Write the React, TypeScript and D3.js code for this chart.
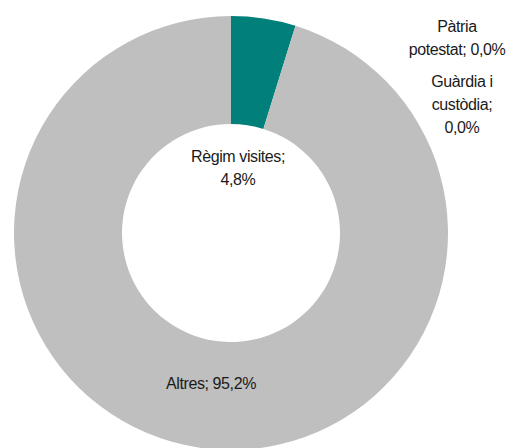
import React from "react";
import * as d3 from "d3";

const categories = ["Règim visites", "Pàtria potestat", "Guàrdia i custòdia", "Altres"];
const values = [4.8, 0.0, 0.0, 95.2];
const colors = ["#007F7B", "#A5A5A5", "#8FA0B0", "#BFBFBF"];
const labelLines = [
  ["Règim visites;", "4,8%"],
  ["Pàtria", "potestat; 0,0%"],
  ["Guàrdia i", "custòdia;", "0,0%"],
  ["Altres; 95,2%"],
];

const W = 510;
const H = 448;
const cx = 231;
const cy = 233;
const outerR = 217;
const innerR = 109;

// label anchor positions (text block first baseline), relative to the chart
const labelPos: [number, number][] = [
  [238, 162],
  [457, 32],
  [462, 87],
  [211, 389],
];

export default function App() {
  const pie = d3
    .pie<number>()
    .sort(null)
    .value((d) => d)
    .startAngle(0)
    .endAngle(2 * Math.PI);
  const arcs = pie(values);
  const arc = d3.arc<d3.PieArcDatum<number>>().innerRadius(innerR).outerRadius(outerR);

  return (
    <svg
      width={W}
      height={H}
      style={{ position: "absolute", left: 0, top: 0, display: "block", background: "#fff" }}
    >
      <g transform={`translate(${cx},${cy})`}>
        {arcs.map((a, i) =>
          a.endAngle - a.startAngle > 0 ? (
            <path key={categories[i]} d={arc(a) || ""} fill={colors[i]} />
          ) : null
        )}
      </g>
      {labelLines.map((lines, i) => (
        <text
          key={categories[i]}
          x={labelPos[i][0]}
          y={labelPos[i][1]}
          textAnchor="middle"
          fontFamily="Liberation Sans, Arial, sans-serif"
          fontSize={16}
          letterSpacing={-0.4}
          fill="#1a1a1a"
        >
          {lines.map((l, j) => (
            <tspan key={j} x={labelPos[i][0]} dy={j === 0 ? 0 : 23}>
              {l}
            </tspan>
          ))}
        </text>
      ))}
    </svg>
  );
}
